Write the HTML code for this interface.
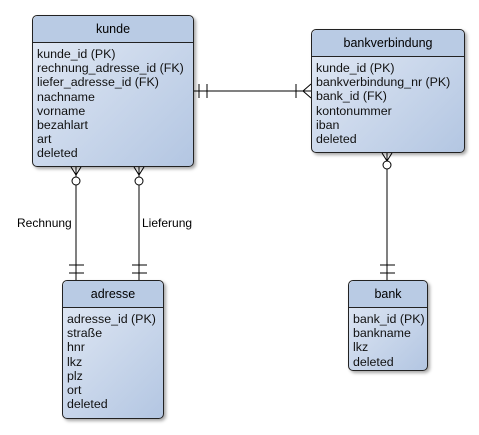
<!DOCTYPE html>
<html><head><style>
body{margin:0;width:479px;height:435px;background:#fff;position:relative;font-family:"Liberation Sans",sans-serif;overflow:hidden}
.t{position:absolute;border:1px solid #222;border-radius:5px;background:linear-gradient(135deg,#e3eaf5,#b3c6e2);box-shadow:2px 2px 3px rgba(0,0,0,.35);box-sizing:border-box}
.h{height:26px;line-height:26px;text-align:center;font-size:12.5px;border-bottom:1px solid #222;background:#b9cbe4;border-radius:5px 5px 0 0}
.b{padding:4px 0 0 4px;font-size:12.4px;line-height:14.2px;color:#111;white-space:nowrap}
.l{position:absolute;font-size:12px}
</style></head><body>
<svg width="479" height="435" style="position:absolute;left:0;top:0" stroke="#000" stroke-width="1" fill="none">
<line x1="194" y1="91" x2="311" y2="91"/>
<line x1="199" y1="84" x2="199" y2="98"/><line x1="207" y1="84" x2="207" y2="98"/>
<line x1="296" y1="84" x2="296" y2="98"/>
<line x1="303" y1="91" x2="311" y2="84"/><line x1="303" y1="91" x2="311" y2="98"/>
<g id="c"><line x1="76" y1="185" x2="76" y2="280"/>
<line x1="76" y1="175" x2="71" y2="167"/><line x1="76" y1="175" x2="81" y2="167"/><line x1="76" y1="167" x2="76" y2="177"/>
<circle cx="76" cy="181" r="4" fill="#fff"/>
<line x1="69" y1="265" x2="84" y2="265"/><line x1="69" y1="273" x2="84" y2="273"/></g>
<use href="#c" x="63"/>
<line x1="387" y1="169" x2="387" y2="280"/>
<line x1="387" y1="161" x2="382" y2="153"/><line x1="387" y1="161" x2="392" y2="153"/><line x1="387" y1="153" x2="387" y2="163"/>
<circle cx="387" cy="165" r="4" fill="#fff"/>
<line x1="380" y1="265" x2="395" y2="265"/><line x1="380" y1="273" x2="395" y2="273"/>
</svg>
<div class="l" style="left:17px;top:216px">Rechnung</div>
<div class="l" style="left:142px;top:216px">Lieferung</div>
<div class="t" style="left:32px;top:15px;width:162px;height:152px"><div class="h">kunde</div><div class="b">kunde_id (PK)<br>rechnung_adresse_id (FK)<br>liefer_adresse_id (FK)<br>nachname<br>vorname<br>bezahlart<br>art<br>deleted</div></div>
<div class="t" style="left:311px;top:29px;width:154px;height:124px"><div class="h">bankverbindung</div><div class="b">kunde_id (PK)<br>bankverbindung_nr (PK)<br>bank_id (FK)<br>kontonummer<br>iban<br>deleted</div></div>
<div class="t" style="left:62px;top:280px;width:102px;height:139px"><div class="h">adresse</div><div class="b">adresse_id (PK)<br>straße<br>hnr<br>lkz<br>plz<br>ort<br>deleted</div></div>
<div class="t" style="left:348px;top:280px;width:80px;height:91px"><div class="h">bank</div><div class="b">bank_id (PK)<br>bankname<br>lkz<br>deleted</div></div>
</body></html>
